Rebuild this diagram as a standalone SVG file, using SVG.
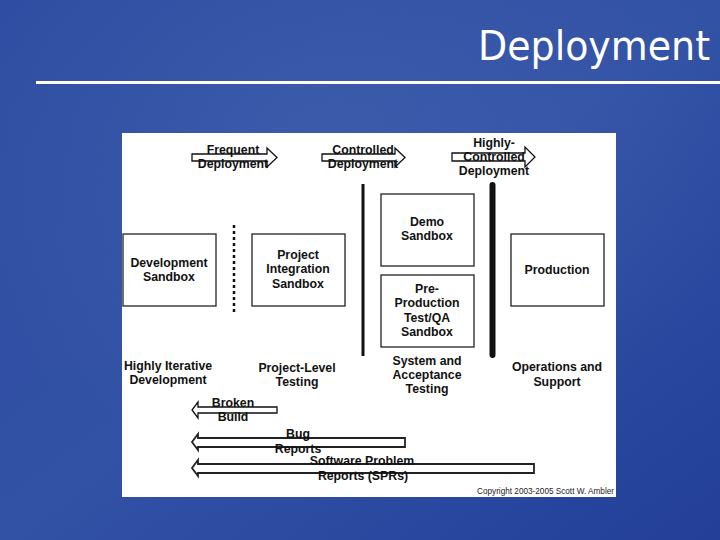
<svg xmlns="http://www.w3.org/2000/svg" width="720" height="540" viewBox="0 0 720 540">
<defs>
<linearGradient id="bg" x1="0" y1="0" x2="1" y2="1">
<stop offset="0" stop-color="#2d4ba1"/>
<stop offset="0.5" stop-color="#3252a6"/>
<stop offset="1" stop-color="#233f98"/>
</linearGradient>
<radialGradient id="glow" cx="0.45" cy="0.25" r="0.6">
<stop offset="0" stop-color="#5a74b8" stop-opacity="0.3"/>
<stop offset="1" stop-color="#5a74b8" stop-opacity="0"/>
</radialGradient>
<style>
.box{fill:#fff;stroke:#222;stroke-width:1.3}
.t{font-family:"Liberation Sans",Arial,sans-serif;font-size:12.3px;font-weight:bold;fill:#111;text-anchor:middle}
.arr{fill:#fff;stroke:#111;stroke-width:1.3;stroke-linejoin:miter}
.arr2{fill:#fff;stroke:#222;stroke-width:1.8}
</style>
</defs>
<rect width="720" height="540" fill="url(#bg)"/>
<rect width="720" height="540" fill="url(#glow)"/>
<text x="710" y="60" font-family="'DejaVu Sans Condensed','DejaVu Sans',sans-serif" font-size="40" fill="#fff" text-anchor="end" textLength="232" lengthAdjust="spacingAndGlyphs">Deployment</text>
<rect x="36" y="81" width="684" height="3" fill="#fff"/>
<rect x="122" y="133" width="494" height="364" fill="#fff"/>

<g id="connectors">
<path class="arr" d="M192,154 L267,154 L267,148 L277,157.5 L267,167 L267,161 L192,161 Z"/>
<path class="arr" d="M322,154 L395,154 L395,148 L405,157.5 L395,167 L395,161 L322,161 Z"/>
<path class="arr" d="M452,153 L525,153 L525,147 L535,157 L525,167 L525,161 L452,161 Z"/>
<line x1="363" y1="184" x2="363" y2="356" stroke="#111" stroke-width="3"/>
<line x1="492.5" y1="185" x2="492.5" y2="355" stroke="#111" stroke-width="6" stroke-linecap="round"/>
<line x1="234" y1="225" x2="234" y2="313" stroke="#111" stroke-width="2.5" stroke-dasharray="3,3"/>
<path class="arr" d="M277,407 L198,407 L198,402 L192,410 L198,418 L198,413 L277,413 Z"/>
<path class="arr2" d="M405,438 L198,438 L198,434 L192,442 L198,450 L198,447 L405,447 Z"/>
<path class="arr2" d="M534,464 L198,464 L198,460 L192,468 L198,476 L198,473 L534,473 Z"/>
</g>

<g id="arrow-labels">
<text class="t" x="233" y="154">Frequent</text>
<text class="t" x="233" y="168">Deployment</text>
<text class="t" x="363" y="154">Controlled</text>
<text class="t" x="363" y="168">Deployment</text>
<text class="t" x="494" y="147">Highly-</text>
<text class="t" x="494" y="161">Controlled</text>
<text class="t" x="494" y="175">Deployment</text>
<text class="t" x="233" y="407">Broken</text>
<text class="t" x="233" y="421">Build</text>
<text class="t" x="298" y="438">Bug</text>
<text class="t" x="298" y="453">Reports</text>
<text class="t" x="362" y="465">Software Problem</text>
<text class="t" x="363" y="480">Reports (SPRs)</text>
</g>

<g id="dev-sandbox">
<rect class="box" x="123" y="234" width="93" height="72"/>
<text class="t" x="169" y="267">Development</text>
<text class="t" x="169" y="281">Sandbox</text>
</g>
<g id="project-integration">
<rect class="box" x="252" y="234" width="93" height="72"/>
<text class="t" x="298" y="259">Project</text>
<text class="t" x="298" y="273">Integration</text>
<text class="t" x="298" y="288">Sandbox</text>
</g>
<g id="demo-sandbox">
<rect class="box" x="381" y="194" width="93" height="72"/>
<text class="t" x="427" y="226">Demo</text>
<text class="t" x="427" y="240">Sandbox</text>
</g>
<g id="preprod-sandbox">
<rect class="box" x="381" y="275" width="93" height="72"/>
<text class="t" x="427" y="293">Pre-</text>
<text class="t" x="427" y="307">Production</text>
<text class="t" x="427" y="322">Test/QA</text>
<text class="t" x="427" y="336">Sandbox</text>
</g>
<g id="production">
<rect class="box" x="511" y="234" width="93" height="72"/>
<text class="t" x="557" y="274">Production</text>
</g>

<g id="phase-labels">
<text class="t" x="168" y="370">Highly Iterative</text>
<text class="t" x="168" y="384">Development</text>
<text class="t" x="297" y="372">Project-Level</text>
<text class="t" x="297" y="386">Testing</text>
<text class="t" x="427" y="365">System and</text>
<text class="t" x="427" y="379">Acceptance</text>
<text class="t" x="427" y="393">Testing</text>
<text class="t" x="557" y="371">Operations and</text>
<text class="t" x="557" y="386">Support</text>
</g>
<text x="614" y="494" font-family="'Liberation Sans',Arial,sans-serif" font-size="8.2" fill="#222" text-anchor="end">Copyright 2003-2005 Scott W. Ambler</text>
</svg>
